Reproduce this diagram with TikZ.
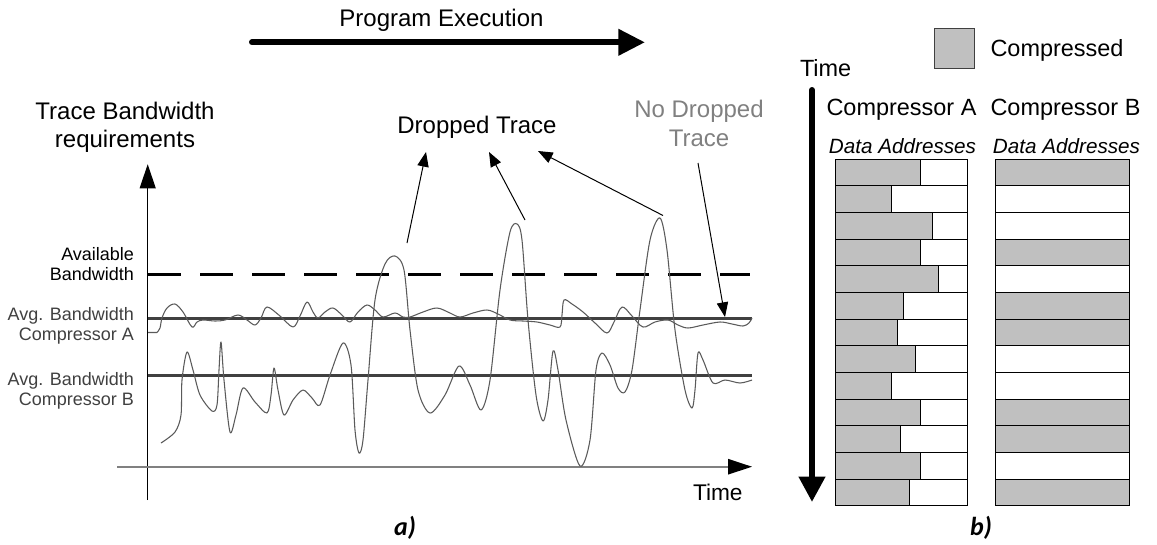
\documentclass[tikz,border=0pt]{standalone}
\usepackage{fontspec}
\setmainfont{Liberation Sans}
\newfontfamily\labelfont{Carlito}
\usetikzlibrary{arrows.meta}

\definecolor{boxgray}{HTML}{C0C0C0}
\definecolor{avggray}{HTML}{404040}
\definecolor{wavegray}{HTML}{5A5A5A}
\definecolor{axisgray}{HTML}{808080}
\definecolor{notegray}{HTML}{808080}

\begin{document}
\begin{tikzpicture}[x=0.75pt,y=-0.75pt,
  txt/.style={inner sep=0pt,outer sep=0pt},
  bigtxt/.style={txt,font=\fontsize{18}{21.5}\selectfont},
  midtxt/.style={txt,font=\fontsize{17.6}{21}\selectfont},
  smalltxt/.style={txt,font=\fontsize{13.5}{15.5}\selectfont,align=right},
  addrtxt/.style={txt,font=\fontsize{15.5}{18}\selectfont\itshape},
  captxt/.style={txt,font=\fontsize{19.5}{22}\selectfont\labelfont\bfseries\itshape},
  waveline/.style={draw=wavegray,line width=0.8pt,line join=round},
  avgline/.style={draw=avggray,line width=2.2pt},
  limitline/.style={draw=black,line width=2.2pt,dash pattern=on 24.75pt off 14.25pt},
  annot/.style={draw=black,line width=0.75pt,-{Triangle[length=11pt,width=8.5pt]}},
  boldarrow/.style={draw=black,line width=4.5pt,line cap=round,-{Triangle[length=20pt,width=19pt]}},
  cell/.style={draw=black,line width=0.75pt},
]
\useasboundingbox (0,0) rectangle (1157,544);

% ---------------- part a) ----------------
\node[bigtxt,anchor=base] (prog) at (441.5,26.7) {Program Execution};
\coordinate (progL) at (252,42.3);
\coordinate (progR) at (645,42.3);
\draw[boldarrow] (progL) -- (progR);

\node[bigtxt,align=center,anchor=north] (ylabel) at (125,101.7) {Trace Bandwidth\\requirements};

% axes
\coordinate (yaxB) at (147.7,500);
\coordinate (yaxT) at (147.7,164.3);
\coordinate (xaxL) at (117,466.7);
\coordinate (xaxR) at (752,466.7);
\draw[black,line width=0.75pt,-{Triangle[length=18pt,width=12pt]}] (yaxB) -- (yaxT);
\draw[axisgray,line width=1.5pt,-{Triangle[length=18pt,width=11.5pt,color=black]}] (xaxL) -- (xaxR);
\node[txt,font=\fontsize{17}{20}\selectfont,anchor=base west] (xlabel) at (693,500) {Time};

% reference levels
\coordinate (availL) at (148,274.3);
\coordinate (availR) at (750,274.3);
\coordinate (avgAL) at (148,318.5);
\coordinate (avgAR) at (752,318.5);
\coordinate (avgBL) at (148,375.8);
\coordinate (avgBR) at (752,375.8);
\draw[limitline] (availL) -- (availR);
\draw[avgline] (avgAL) -- (avgAR);
\draw[avgline] (avgBL) -- (avgBR);

\node[smalltxt,anchor=north east] (availtxt) at (134,247) {Available\\Bandwidth};
\node[smalltxt,text=avggray,anchor=north east] (avgAtxt) at (134,307) {Avg. Bandwidth\\Compressor A};
\node[smalltxt,text=avggray,anchor=north east] (avgBtxt) at (134,372) {Avg. Bandwidth\\Compressor B};

% bandwidth of compressor A
\draw[waveline] (148,332.5) -- (157,332.5)
  plot[smooth,tension=0.55] coordinates {(157,332.5) (160,328) (162,318) (167,308) (175,304)
  (183,312) (192,327) (197,322) (203,320) (215,321) (225,320) (238,315) (247,320) (255,325)
  (261,318) (267,307) (280,316) (293,327) (300,316) (307,302) (313,312) (318,318) (325,312)
  (333,308) (342,315) (350,322) (358,312) (367,305) (375,310) (383,317) (395,313) (403,317)
  (410,317) (423,312) (437,308) (450,313) (460,317) (473,313) (487,310) (498,314) (510,320)
  (523,321) (537,322) (550,325) (560,327) (562,315) (564,300) (572,304) (583,312) (595,323)
  (607,333) (614,322) (622,307) (632,316) (643,327) (655,322) (668,320) (678,325) (688,328)
  (703,325) (720,322) (732,324) (743,326) (749,323) (752,318)};

% bandwidth of compressor B
\draw[waveline] plot[smooth,tension=0.5] coordinates {(161,443) (175,432) (181,415) (182,380)
  (187,352) (193,370) (200,395) (212,411) (217,405) (219,370) (221,342) (224,380) (230,432)
  (236,415) (243,388) (255,402) (267,413) (271,395) (274,368) (278,390) (284,415) (293,400)
  (303,390) (312,398) (320,405) (330,375) (343,343) (351,365) (355,430) (359,453) (363,440)
  (368,380) (375,300) (385,264) (395,256) (404,270) (410,330) (418,390) (430,413) (445,395)
  (459,366) (470,385) (481,410) (490,380) (500,290) (510,232) (517,224) (522,240) (528,320)
  (536,395) (543,421) (548,400) (553,351) (558,370) (566,420) (580,466) (590,440) (596,370)
  (602,353) (610,365) (618,388) (625,392) (632,370) (640,310) (650,240) (660,218) (667,250)
  (675,330) (685,390) (692,408) (695,390) (698,353) (703,360) (713,383) (725,380) (740,383)
  (752,380)};

% annotations
\node[bigtxt,anchor=base] (dropped) at (477,133.3) {Dropped Trace};
\node[bigtxt,text=notegray,align=center,anchor=north] (nodrop) at (699,100) {No Dropped\\Trace};
\coordinate (peak1) at (407,243);
\coordinate (tip1) at (426,152);
\coordinate (peak2) at (525,220);
\coordinate (tip2) at (489,152);
\coordinate (peak3) at (663,215.5);
\coordinate (tip3) at (538,151);
\coordinate (calmS) at (698,163);
\coordinate (calmT) at (725,317);
\draw[annot] (peak1) -- (tip1);
\draw[annot] (peak2) -- (tip2);
\draw[annot] (peak3) -- (tip3);
\draw[annot] (calmS) -- (calmT);

\node[captxt,anchor=base] (capa) at (405,535) {a)};

% ---------------- part b) ----------------
\node[cell,draw=avggray,fill=boxgray,minimum width=30pt,minimum height=29.7pt,inner sep=0pt] (legbox) at (954,48.5) {};
\node[midtxt,anchor=base west] (legtxt) at (990.5,56) {Compressed};

\node[midtxt,anchor=base west] (timeB) at (800,76) {Time};
\coordinate (timeT) at (812,90);
\coordinate (timeD) at (812,502);
\draw[boldarrow,-{Triangle[length=19pt,width=19pt]}] (timeT) -- (timeD);

\node[midtxt,anchor=base] (compA) at (901.5,115) {Compressor A};
\node[midtxt,anchor=base] (compB) at (1065.5,115) {Compressor B};
\node[addrtxt,anchor=base] (addrA) at (902.5,153) {Data Addresses};
\node[addrtxt,anchor=base] (addrB) at (1066.5,153) {Data Addresses};

% compressor A: compressed share of each address block
\foreach \w [count=\i from 0] in {920.7,891.7,932.3,920.7,938.3,903.3,897.7,915,891.7,920.7,900.7,920.7,909.3} {
  \pgfmathsetmacro\yt{159+\i*26.69}
  \pgfmathsetmacro\yb{159+(\i+1)*26.69}
  \fill[boxgray] (835.7,\yt) rectangle (\w,\yb);
  \draw[cell] (835.7,\yt) rectangle (967,\yb);
  \draw[cell] (\w,\yt) -- (\w,\yb);
}
% compressor B: whole blocks either compressed or not
\foreach \f [count=\i from 0] in {1,0,0,1,0,1,1,0,0,1,1,0,1} {
  \pgfmathsetmacro\yt{159+\i*26.69}
  \pgfmathsetmacro\yb{159+(\i+1)*26.69}
  \ifnum\f=1 \fill[boxgray] (995.7,\yt) rectangle (1129.3,\yb); \fi
  \draw[cell] (995.7,\yt) rectangle (1129.3,\yb);
}

\node[captxt,anchor=base] (capb) at (981,535) {b)};
\end{tikzpicture}
\end{document}
